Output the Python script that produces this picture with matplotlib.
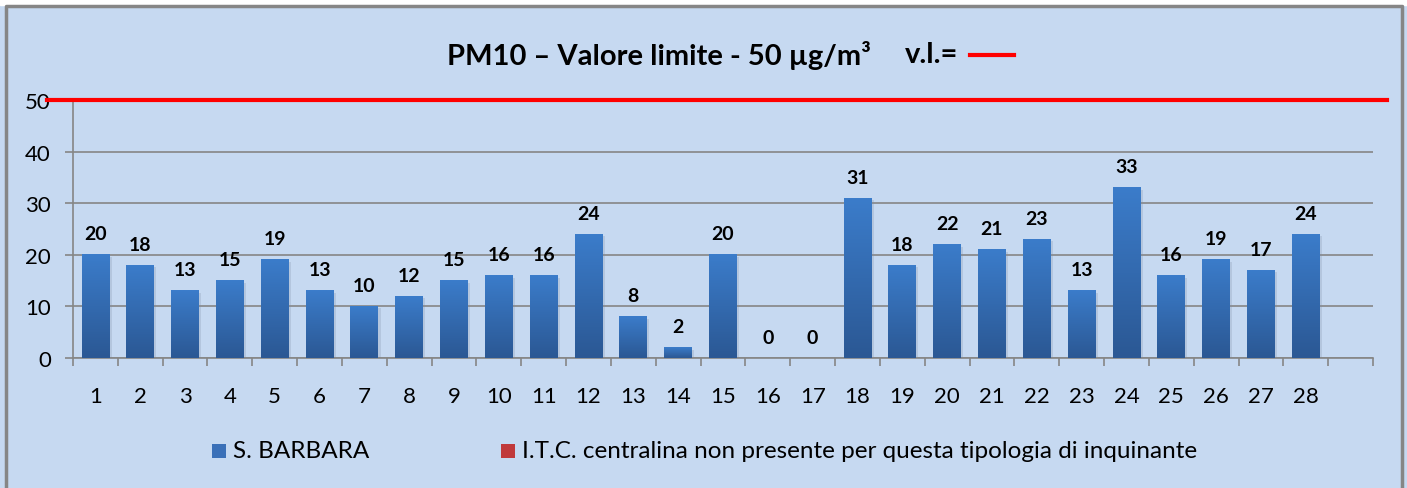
import matplotlib.pyplot as plt
import numpy as np
from matplotlib.colors import LinearSegmentedColormap
from matplotlib.lines import Line2D

# data
days = [str(d) for d in range(1, 29)]
pm10 = [20, 18, 13, 15, 19, 13, 10, 12, 15, 16, 16, 24, 8, 2, 20, 0, 0,
        31, 18, 22, 21, 23, 13, 33, 16, 19, 17, 24]
limit = 50
yticks = [0, 10, 20, 30, 40, 50]
series = ["S. BARBARA", "I.T.C. centralina non presente per questa tipologia di inquinante"]

BG = "#c6d9f1"
GRID = "#868686"
W, H = 1407, 489

plt.rcParams['font.family'] = ['Lato', 'DejaVu Sans']

fig = plt.figure(figsize=(W / 100, H / 100), dpi=100)
fig.patch.set_facecolor(BG)
ax = fig.add_axes([73 / W, 130 / H, 1300 / W, 258 / H])
ax.set_facecolor(BG)

# gradient bars (lighter at top, darker at bottom)
cmap = LinearSegmentedColormap.from_list("bar", ["#2b5894", "#3b7cca"])
grad = np.linspace(0, 1, 64).reshape(-1, 1)
w = 0.62
x = np.arange(len(days))
for xi, v in zip(x, pm10):
    if v > 0:
        # faint shadow
        ax.add_patch(plt.Rectangle((xi - w / 2 + 0.05, -0.4), w, v, color="#7f8fa6",
                                   alpha=0.25, lw=0, zorder=2))
        ax.imshow(grad, extent=(xi - w / 2, xi + w / 2, 0, v), origin="lower",
                  cmap=cmap, aspect="auto", zorder=3, interpolation="bilinear")
    ax.annotate(str(v), (xi, v), xytext=(0, 9), textcoords="offset points",
                ha="center", va="bottom", fontsize=14, fontweight="bold", zorder=5)

ax.set_xlim(-0.5, len(days) + 0.5)
ax.set_ylim(0, 50)

# axes styling
for s in ["top", "right"]:
    ax.spines[s].set_visible(False)
for s in ["left", "bottom"]:
    ax.spines[s].set_color(GRID)
    ax.spines[s].set_linewidth(1.2)
ax.set_yticks(yticks)
ax.tick_params(axis="y", length=6, color=GRID, width=1.2, pad=10, labelsize=16)
ax.yaxis.grid(True, color=GRID, lw=1.2, zorder=0)
ax.set_axisbelow(True)
ax.set_xticks(np.arange(-0.5, len(days) + 1, 1))
ax.set_xticklabels([])
ax.set_xticks(x, minor=True)
ax.set_xticklabels(days, minor=True)
ax.tick_params(axis="x", which="major", direction="out", length=6, color=GRID, width=1.2)
ax.tick_params(axis="x", which="minor", length=0, pad=20, labelsize=16)

# limit line
ax.axhline(limit, xmin=-26 / 1300, xmax=1314 / 1300, color="red", lw=3, clip_on=False, zorder=6)

# title with red marker
fig.text(447 / W, 1 - 55 / H, "PM10 \u2013 Valore limite - 50 \u00b5g/m\u00b3",
         fontsize=21, fontweight="bold", va="center", ha="left")
fig.text(905 / W, 1 - 55 / H, "v.l.=", fontsize=21, fontweight="bold", va="center", ha="left")
fig.add_artist(Line2D([970 / W, 1014 / W], [1 - 56 / H] * 2, color="red", lw=3))

# legend drawn by hand
for sq_x, col, label in [(212, "#3a70b8", series[0]), (501, "#c0393b", series[1])]:
    fig.add_artist(plt.Rectangle((sq_x / W, 1 - 459 / H), 14 / W, 14 / H,
                                 facecolor=col, edgecolor="none"))
    fig.text((sq_x + 21) / W, 1 - 452 / H, label, fontsize=17.5, va="center", ha="left")

# outer frame (left, top, right)
fig.add_artist(Line2D([5.5 / W, 5.5 / W, 1401.5 / W, 1401.5 / W],
                      [0, 1 - 7 / H, 1 - 7 / H, 0], color=GRID, lw=2.5))
fig.add_artist(plt.Rectangle((0, 1 - 5.5 / H), 1, 5.5 / H, color="white", zorder=-1))

fig.savefig("out.png", dpi=100, facecolor=BG)
